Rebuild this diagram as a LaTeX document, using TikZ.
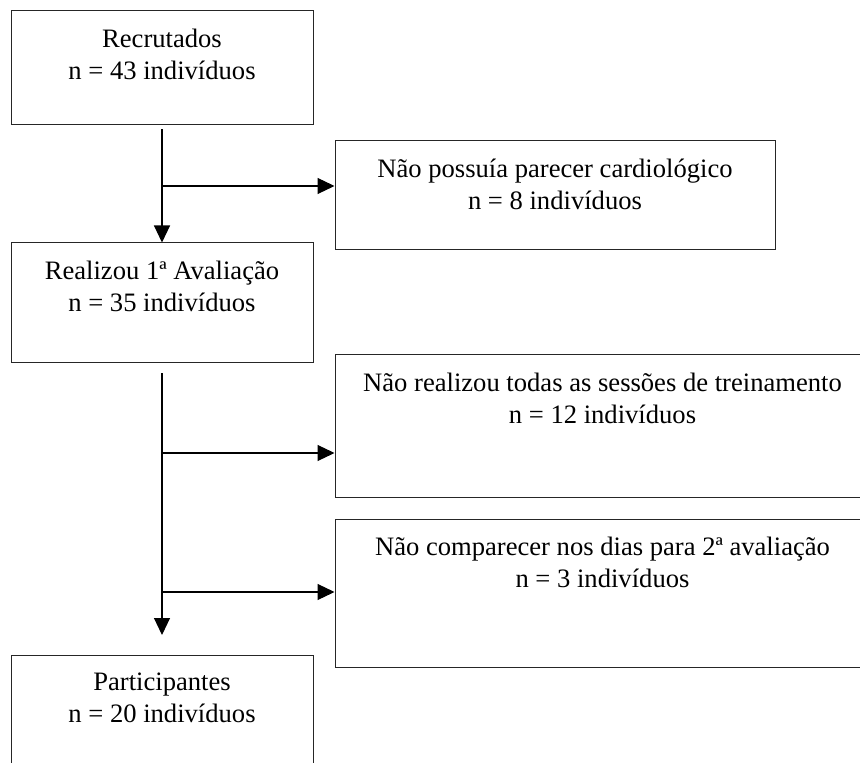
\documentclass[tikz,border=0pt]{standalone}
\usepackage{fontspec}
\setmainfont{Liberation Serif}
\usetikzlibrary{arrows.meta,positioning}
\tikzset{
	caixa/.style={draw=black!85, line width=0.5pt, rectangle, inner sep=0pt},
	rotulo/.style={align=center, inner sep=0pt, font=\fontsize{13.3}{16}\selectfont},
	seta/.style={line width=0.55pt, -{Triangle[length=8.5pt,width=8pt]}},
}

\begin{document}
\begin{tikzpicture}[x=0.5pt, y=-0.5pt]
	%%%%% START %%%%%
	\clip (0, 0) rectangle (860, 763);
	\fill[white] (0, 0) rectangle (860, 763);

	% coluna da esquerda
	\node[caixa, minimum width=151pt, minimum height=57pt] (recr) at (162, 68) {};
	\node[rotulo, below=9pt of recr.north] (recrT) {Recrutados\\n = 43 indivíduos};

	\node[caixa, minimum width=151pt, minimum height=60pt] (aval) at (162, 303) {};
	\node[rotulo, below=9pt of aval.north] (avalT) {Realizou 1ª Avaliação\\n = 35 indivíduos};

	\node[caixa, minimum width=151pt, minimum height=72.5pt] (part) at (162, 727.5) {};
	\node[rotulo, below=9pt of part.north] (partT) {Participantes\\n = 20 indivíduos};

	% exclusoes
	\node[caixa, minimum width=220pt, minimum height=54.5pt] (exc1) at (555, 195.5) {};
	\node[rotulo, below=9pt of exc1.north] (exc1T) {Não possuía parecer cardiológico\\n = 8 indivíduos};

	\node[caixa, minimum width=267.5pt, minimum height=71pt] (exc2) at (602.5, 426) {};
	\node[rotulo, below=9pt of exc2.north] (exc2T) {Não realizou todas as sessões de treinamento\\n = 12 indivíduos};

	\node[caixa, minimum width=267.5pt, minimum height=74pt] (exc3) at (602.5, 593) {};
	\node[rotulo, below=9pt of exc3.north] (exc3T) {Não comparecer nos dias para 2ª avaliação\\n = 3 indivíduos};

	% setas
	\coordinate (ram1) at (162, 186);
	\coordinate (ram2) at (162, 453);
	\coordinate (ram3) at (162, 592);
	\coordinate (fim) at (162, 635);

	\draw[seta] ([yshift=-2pt]recr.south) -- (aval.north);
	\draw[seta] (ram1) -- (ram1 -| exc1.west);

	\draw[seta] ([yshift=-5pt]aval.south) -- (fim);
	\draw[seta] (ram2) -- (ram2 -| exc2.west);
	\draw[seta] (ram3) -- (ram3 -| exc3.west);
	%%%%% END %%%%%
\end{tikzpicture}
\end{document}
